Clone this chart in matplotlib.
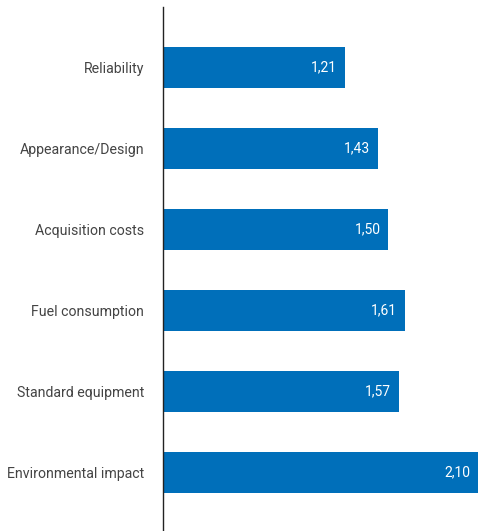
import matplotlib
matplotlib.use("Agg")
import matplotlib.pyplot as plt

categories = ["Reliability", "Appearance/Design", "Acquisition costs",
              "Fuel consumption", "Standard equipment", "Environmental impact"]
values = [1.21, 1.43, 1.50, 1.61, 1.57, 2.10]
value_labels = ["1,21", "1,43", "1,50", "1,61", "1,57", "2,10"]

plt.rcParams['font.family'] = ['Roboto', 'DejaVu Sans']

fig = plt.figure(figsize=(4.78, 5.31), dpi=100)
ax = fig.add_axes([163/478, 0, 1 - 163/478, 524/531])

ypos = list(range(len(categories)))
ax.barh(ypos, values, height=0.506, color="#006fba")
for y, v, lab in zip(ypos, values, value_labels):
    ax.text(v - 0.05, y, lab, color="white", ha="right", va="center",
            fontsize=10)

ax.set_xlim(0, 2.10)
ax.set_ylim(5.722, -0.747)
ax.set_yticks(ypos)
ax.set_yticklabels(categories, fontsize=10.2, color="#444444")
ax.tick_params(axis="y", length=0, pad=13.5)
ax.set_xticks([])
for s in ["top", "right", "bottom"]:
    ax.spines[s].set_visible(False)
ax.spines["left"].set_color("#222222")
ax.spines["left"].set_linewidth(1)

fig.savefig("out.png", dpi=100)
